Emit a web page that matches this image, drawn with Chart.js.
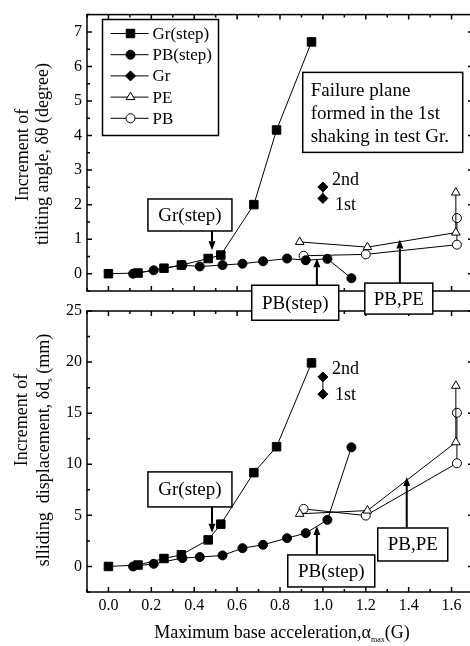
<!DOCTYPE html>
<html>
<head>
<meta charset="utf-8">
<script src="https://cdn.jsdelivr.net/npm/chart.js@4.4.1/dist/chart.umd.min.js"></script>
<style>
    body { margin: 0; background: #fff; }
    #wrap { position: relative; width: 470px; height: 646px; overflow: hidden; background: #fff; }
    #wrap canvas { position: absolute; left: 0; top: 0; }
</style>
</head>
<body>
<div id="wrap">
    <canvas id="slideChart" width="480" height="646" style="width:480px;height:646px"></canvas>
    <canvas id="tiltChart" width="480" height="330" style="width:480px;height:330px"></canvas>
</div>
<script>
// --- data ---
const grStepX = [0, 0.138, 0.259, 0.34, 0.465, 0.524, 0.678, 0.784, 0.947];
const grStepTilt = [0, 0.02, 0.16, 0.25, 0.44, 0.54, 2.0, 4.16, 6.71];
const grStepSlide = [0, 0.14, 0.78, 1.14, 2.6, 4.14, 9.18, 11.72, 19.92];

const pbStepX = [0.115, 0.211, 0.345, 0.426, 0.532, 0.625, 0.721, 0.833, 0.92, 1.021, 1.133];
const pbStepTilt = [0, 0.1, 0.25, 0.21, 0.25, 0.29, 0.36, 0.44, 0.39, 0.43, -0.13];
const pbStepSlide = [0, 0.26, 0.82, 0.92, 1.08, 1.79, 2.12, 2.77, 3.26, 4.56, 11.66];

const grX = [1.0, 1.0];
const grTilt = [2.18, 2.51];
const grSlide = [16.86, 18.55];
const grShakes = ['1st', '2nd'];

const peX = [0.892, 1.208, 1.62, 1.62];
const peTilt = [0.92, 0.77, 1.19, 2.35];
const peSlide = [5.15, 5.47, 12.15, 17.68];

const pbX = [0.91, 1.2, 1.625, 1.625];
const pbTilt = [0.52, 0.56, 0.84, 1.61];
const pbSlide = [5.63, 4.98, 10.1, 15.04];

const xTicks = [0, 0.2, 0.4, 0.6, 0.8, 1.0, 1.2, 1.4, 1.6];
const tiltTicks = [0, 1, 2, 3, 4, 5, 6, 7];
const slideTicks = [0, 5, 10, 15, 20, 25];

const serif = '"Liberation Serif", "Times New Roman", serif';

function pts(xs, ys) {
    return xs.map((v, i) => ({ x: v, y: ys[i] }));
}

function makeDatasets(tilt) {
    const base = { showLine: true, borderColor: '#000', borderWidth: 1, pointBorderColor: '#000', pointBorderWidth: 1, tension: 0 };
    return [
        Object.assign({}, base, { label: 'Gr(step)', data: pts(grStepX, tilt ? grStepTilt : grStepSlide), pointStyle: 'rect', pointRadius: 6, pointBackgroundColor: '#000' }),
        Object.assign({}, base, { label: 'PB(step)', data: pts(pbStepX, tilt ? pbStepTilt : pbStepSlide), pointStyle: 'circle', pointRadius: 4.5, pointBackgroundColor: '#000' }),
        Object.assign({}, base, { label: 'Gr', data: pts(grX, tilt ? grTilt : grSlide), pointStyle: 'rectRot', pointRadius: 5, pointBackgroundColor: '#000' }),
        Object.assign({}, base, { label: 'PE', data: pts(peX, tilt ? peTilt : peSlide), pointStyle: 'triangle', pointRadius: 5, pointBackgroundColor: '#fff' }),
        Object.assign({}, base, { label: 'PB', data: pts(pbX, tilt ? pbTilt : pbSlide), pointStyle: 'circle', pointRadius: 4.5, pointBackgroundColor: '#fff' })
    ];
}

// inward ticks, major + minor
function drawInwardTicks(ctx, scale, a, horizontal, step) {
    const half = step / 2;
    const start = Math.ceil(scale.min / half - 1e-6) * half;
    for (let v = start; v <= scale.max + 1e-6; v += half) {
        const major = Math.abs(v / step - Math.round(v / step)) < 1e-6;
        const len = major ? 5 : 3;
        const p = scale.getPixelForValue(v);
        ctx.beginPath();
        if (horizontal) {
            ctx.moveTo(p, a.bottom); ctx.lineTo(p, a.bottom - len);
            ctx.moveTo(p, a.top); ctx.lineTo(p, a.top + len);
        } else {
            ctx.moveTo(a.left, p); ctx.lineTo(a.left + len, p);
            ctx.moveTo(a.right, p); ctx.lineTo(a.right - len, p);
        }
        ctx.stroke();
    }
}

function drawText(ctx, parts, cx, cy, rotate) {
    ctx.save();
    ctx.translate(cx, cy);
    if (rotate) ctx.rotate(-Math.PI / 2);
    let total = 0;
    parts.forEach(p => {
        ctx.font = p.size + 'px ' + serif;
        p.w = ctx.measureText(p.t).width;
        total += p.w;
    });
    let px = -total / 2;
    ctx.textAlign = 'left';
    ctx.textBaseline = 'middle';
    ctx.fillStyle = '#000';
    parts.forEach(p => {
        ctx.font = p.size + 'px ' + serif;
        ctx.fillText(p.t, px, p.dy || 0);
        px += p.w;
    });
    ctx.restore();
}

function drawCallouts(chart, items) {
    const { ctx, scales: { x, y } } = chart;
    items.forEach(it => {
        const cx = x.getPixelForValue(it.x), cy = y.getPixelForValue(it.y);
        const l = cx - it.w / 2, t = cy - it.h / 2;
        ctx.fillStyle = '#fff';
        ctx.fillRect(l, t, it.w, it.h);
        ctx.strokeStyle = '#000';
        ctx.lineWidth = 1.5;
        ctx.strokeRect(l, t, it.w, it.h);
        ctx.fillStyle = '#000';
        ctx.font = '19px ' + serif;
        if (it.lines) {
            ctx.textAlign = 'left';
            ctx.textBaseline = 'alphabetic';
            it.lines.forEach((s, i) => ctx.fillText(s, l + 8, t + 24 + i * 23));
        } else {
            ctx.textAlign = 'center';
            ctx.textBaseline = 'middle';
            ctx.fillText(it.text, cx, cy + 1);
        }
        if (it.arrowX !== undefined) {
            const ax = x.getPixelForValue(it.arrowX), ty = y.getPixelForValue(it.tipY);
            const sy = ty < t ? t : t + it.h;
            const dir = ty < sy ? -1 : 1;
            const head = 9;
            ctx.lineWidth = 2;
            ctx.beginPath();
            ctx.moveTo(ax, sy);
            ctx.lineTo(ax, ty - dir * head);
            ctx.stroke();
            ctx.beginPath();
            ctx.moveTo(ax, ty);
            ctx.lineTo(ax - 3.5, ty - dir * head);
            ctx.lineTo(ax + 3.5, ty - dir * head);
            ctx.closePath();
            ctx.fill();
        }
    });
}

function drawLegend(chart, box) {
    const ctx = chart.ctx;
    ctx.save();
    ctx.fillStyle = '#fff';
    ctx.fillRect(box.x, box.y, box.w, box.h);
    ctx.strokeStyle = '#000';
    ctx.lineWidth = 1.5;
    ctx.strokeRect(box.x, box.y, box.w, box.h);
    chart.data.datasets.forEach((ds, i) => {
        const yy = box.y + 14 + i * 21.2;
        ctx.strokeStyle = '#000';
        ctx.lineWidth = 1;
        ctx.beginPath();
        ctx.moveTo(box.x + 8, yy);
        ctx.lineTo(box.x + 46, yy);
        ctx.stroke();
        ctx.fillStyle = ds.pointBackgroundColor;
        Chart.helpers.drawPoint(ctx, { pointStyle: ds.pointStyle, radius: ds.pointRadius, rotation: 0, borderWidth: 1 }, box.x + 28, yy);
        ctx.fillStyle = '#000';
        ctx.font = '17px ' + serif;
        ctx.textAlign = 'left';
        ctx.textBaseline = 'middle';
        ctx.fillText(ds.label, box.x + 50, yy + 1);
    });
    ctx.restore();
}

const decorPlugin = {
    id: 'decor',
    afterDraw(chart, args, opts) {
        const { ctx, chartArea: a, scales: { x, y } } = chart;
        ctx.save();
        ctx.strokeStyle = '#000';
        ctx.lineWidth = 1.5;
        ctx.strokeRect(a.left, a.top, a.right - a.left, a.bottom - a.top);
        drawInwardTicks(ctx, x, a, true, 0.2);
        drawInwardTicks(ctx, y, a, false, opts.yStep);

        // 1st / 2nd shaking labels next to the Gr points
        const gr = chart.getDatasetMeta(2).data;
        ctx.fillStyle = '#000';
        ctx.font = '18px ' + serif;
        ctx.textAlign = 'left';
        ctx.textBaseline = 'middle';
        gr.forEach((pt, i) => {
            ctx.fillText(grShakes[i], pt.x + opts.shakeDx[i], pt.y + opts.shakeDy[i]);
        });

        opts.titles.forEach(tt => drawText(ctx, tt.parts, tt.x, tt.y, tt.rotate));
        if (opts.legend) drawLegend(chart, opts.legend);
        drawCallouts(chart, opts.callouts);
        ctx.restore();
    }
};

function baseOptions(yMin, yMax, yTickVals, padding, xHeight, showX) {
    return {
        responsive: false,
        animation: false,
        layout: { padding: padding },
        plugins: { legend: { display: false }, tooltip: { enabled: false } },
        scales: {
            x: {
                type: 'linear', min: -0.1, max: 1.7,
                afterBuildTicks: s => { s.ticks = xTicks.map(v => ({ value: v })); },
                grid: { display: false, drawTicks: false },
                border: { display: false },
                ticks: { display: showX, color: '#000', padding: 4, font: { family: serif, size: 16 }, callback: v => v.toFixed(1) },
                afterFit: s => { s.height = xHeight; }
            },
            y: {
                min: yMin, max: yMax,
                afterBuildTicks: s => { s.ticks = yTickVals.map(v => ({ value: v })); },
                grid: { display: false, drawTicks: false },
                border: { display: false },
                ticks: { color: '#000', padding: 5, font: { family: serif, size: 16 } },
                afterFit: s => { s.width = 87; }
            }
        }
    };
}

// top panel: tilting angle
const tiltOpts = baseOptions(-0.5, 7.5, tiltTicks, { top: 8, right: 7, bottom: 39, left: 0 }, 0, false);
tiltOpts.plugins.decor = {
    yStep: 1,
    shakeDx: [12, 9],
    shakeDy: [7, -7],
    legend: { x: 102.5, y: 19.5, w: 116, h: 116 },
    titles: [
        { x: 23, y: 155, rotate: true, parts: [{ t: 'Increment of', size: 18 }] },
        { x: 43, y: 154, rotate: true, parts: [{ t: 'tiliting angle, δθ (degree)', size: 18 }] }
    ],
    callouts: [
        { lines: ['Failure plane', 'formed in the 1st', 'shaking in test Gr.'], x: 1.279, y: 4.67, w: 160, h: 80 },
        { text: 'Gr(step)', x: 0.38, y: 1.70, w: 84, h: 32, arrowX: 0.483, tipY: 0.68 },
        { text: 'PB(step)', x: 0.871, y: -0.84, w: 87, h: 35, arrowX: 0.972, tipY: 0.45 },
        { text: 'PB,PE', x: 1.354, y: -0.72, w: 68, h: 31, arrowX: 1.359, tipY: 0.99 }
    ]
};

new Chart(document.getElementById('tiltChart'), {
    type: 'scatter',
    data: { datasets: makeDatasets(true) },
    options: tiltOpts,
    plugins: [decorPlugin]
});

// bottom panel: sliding displacement
const slideOpts = baseOptions(-2.5, 25, slideTicks, { top: 311, right: 7, bottom: 0, left: 0 }, 54, true);
slideOpts.plugins.decor = {
    yStep: 5,
    shakeDx: [12, 9],
    shakeDy: [1, -8],
    legend: null,
    titles: [
        { x: 22.5, y: 420, rotate: true, parts: [{ t: 'Increment of', size: 18 }] },
        { x: 44, y: 450, rotate: true, parts: [{ t: 'slliding  displacement, δd', size: 18 }, { t: 's', size: 9, dy: 6 }, { t: ' (mm)', size: 18 }] },
        { x: 282, y: 633, rotate: false, parts: [{ t: 'Maximum base acceleration,α', size: 18 }, { t: 'max', size: 8, dy: 7 }, { t: '(G)', size: 18 }] }
    ],
    callouts: [
        { text: 'Gr(step)', x: 0.38, y: 7.54, w: 84, h: 35, arrowX: 0.483, tipY: 3.3 },
        { text: 'PB(step)', x: 1.039, y: -0.44, w: 87, h: 32, arrowX: 0.972, tipY: 3.96 },
        { text: 'PB,PE', x: 1.419, y: 2.15, w: 70, h: 33, arrowX: 1.391, tipY: 8.76 }
    ]
};

new Chart(document.getElementById('slideChart'), {
    type: 'scatter',
    data: { datasets: makeDatasets(false) },
    options: slideOpts,
    plugins: [decorPlugin]
});
</script>
</body>
</html>
